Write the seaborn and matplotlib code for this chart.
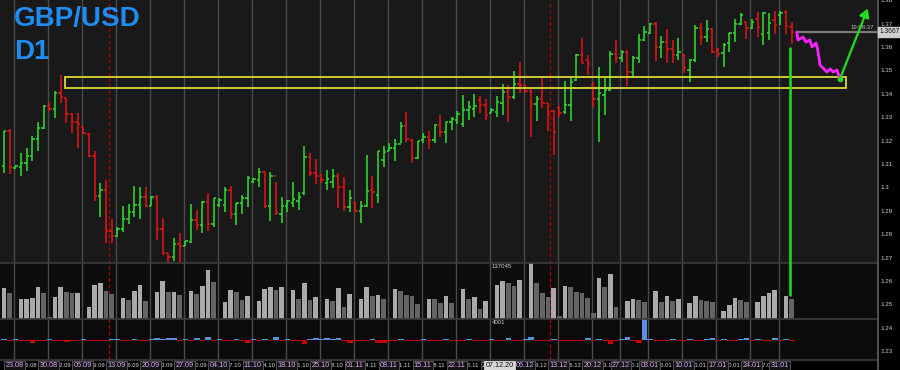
import numpy as np
import pandas as pd
import seaborn as sns
import matplotlib.pyplot as plt
from matplotlib.lines import Line2D
from matplotlib.patches import Rectangle, FancyArrowPatch
from matplotlib.transforms import blended_transform_factory

# --- daily GBP/USD bars ---
open_ = [1.3093, 1.3243, 1.3085, 1.3089, 1.3106, 1.3136, 1.3208, 1.3256, 1.3350, 1.3337,
         1.3405, 1.3384, 1.3315, 1.3281, 1.3260, 1.3230, 1.3136, 1.2965, 1.2991, 1.2815,
         1.2794, 1.2824, 1.2867, 1.2896, 1.2926, 1.2961, 1.2922, 1.2961, 1.2824, 1.2721,
         1.2704, 1.2760, 1.2751, 1.2768, 1.2862, 1.2841, 1.2939, 1.2845, 1.2926, 1.2926,
         1.2991, 1.2888, 1.2935, 1.2956, 1.3025, 1.3033, 1.3067, 1.2922, 1.3050, 1.2888,
         1.2922, 1.2935, 1.2943, 1.2978, 1.3132, 1.3063, 1.3050, 1.3020, 1.3025, 1.3050,
         1.3003, 1.2918, 1.2935, 1.2901, 1.2922, 1.2991, 1.2969, 1.3119, 1.3157, 1.3170,
         1.3187, 1.3264, 1.3204, 1.3127, 1.3204, 1.3217, 1.3204, 1.3268, 1.3238, 1.3281,
         1.3290, 1.3273, 1.3332, 1.3337, 1.3375, 1.3354, 1.3320, 1.3324, 1.3362, 1.3409,
         1.3388, 1.3444, 1.3439, 1.3414, 1.3358, 1.3379, 1.3362, 1.3328, 1.3341, 1.3324,
         1.3354, 1.3461, 1.3568, 1.3546, 1.3439, 1.3379, 1.3397, 1.3418, 1.3572, 1.3555,
         1.3580, 1.3495, 1.3555, 1.3632, 1.3662, 1.3700, 1.3602, 1.3623, 1.3593, 1.3568,
         1.3568, 1.3503, 1.3546, 1.3683, 1.3644, 1.3679, 1.3589, 1.3576, 1.3619, 1.3662,
         1.3700, 1.3709, 1.3683, 1.3721, 1.3657, 1.3662, 1.3717, 1.3738, 1.3751, 1.3687]
high = [1.3243, 1.3251, 1.3093, 1.3149, 1.3170, 1.3221, 1.3281, 1.3354, 1.3367, 1.3414,
        1.3482, 1.3384, 1.3320, 1.3320, 1.3260, 1.3234, 1.3157, 1.3020, 1.3033, 1.2867,
        1.2832, 1.2922, 1.2931, 1.3008, 1.3003, 1.3003, 1.2965, 1.2969, 1.2871, 1.2721,
        1.2785, 1.2807, 1.2773, 1.2931, 1.2905, 1.2943, 1.2978, 1.2956, 1.2956, 1.3003,
        1.3008, 1.2935, 1.2969, 1.3050, 1.3042, 1.3085, 1.3067, 1.3067, 1.3025, 1.2961,
        1.2948, 1.3025, 1.2982, 1.3179, 1.3149, 1.3123, 1.3059, 1.3076, 1.3080, 1.3063,
        1.3046, 1.2991, 1.2939, 1.2943, 1.3140, 1.3050, 1.3157, 1.3179, 1.3191, 1.3208,
        1.3281, 1.3324, 1.3208, 1.3200, 1.3234, 1.3243, 1.3273, 1.3311, 1.3281, 1.3302,
        1.3328, 1.3397, 1.3371, 1.3401, 1.3392, 1.3379, 1.3341, 1.3392, 1.3444, 1.3439,
        1.3499, 1.3538, 1.3439, 1.3422, 1.3392, 1.3473, 1.3362, 1.3332, 1.3350, 1.3456,
        1.3473, 1.3572, 1.3640, 1.3568, 1.3452, 1.3516, 1.3469, 1.3585, 1.3632, 1.3589,
        1.3589, 1.3563, 1.3657, 1.3691, 1.3704, 1.3709, 1.3649, 1.3679, 1.3632, 1.3640,
        1.3572, 1.3550, 1.3696, 1.3704, 1.3717, 1.3683, 1.3597, 1.3619, 1.3662, 1.3721,
        1.3747, 1.3709, 1.3721, 1.3751, 1.3751, 1.3747, 1.3756, 1.3756, 1.3760, 1.3709]
low = [1.3063, 1.3059, 1.3080, 1.3050, 1.3072, 1.3114, 1.3157, 1.3251, 1.3328, 1.3298,
       1.3362, 1.3277, 1.3234, 1.3170, 1.3230, 1.3132, 1.2943, 1.2875, 1.2764, 1.2764,
       1.2790, 1.2811, 1.2845, 1.2875, 1.2867, 1.2918, 1.2922, 1.2777, 1.2713, 1.2670,
       1.2687, 1.2683, 1.2751, 1.2764, 1.2820, 1.2807, 1.2815, 1.2832, 1.2918, 1.2896,
       1.2867, 1.2841, 1.2888, 1.2918, 1.3020, 1.3003, 1.2914, 1.2858, 1.2884, 1.2850,
       1.2896, 1.2918, 1.2905, 1.2969, 1.3050, 1.3016, 1.3020, 1.2991, 1.2999, 1.2914,
       1.2901, 1.2896, 1.2896, 1.2850, 1.2918, 1.2914, 1.2935, 1.3089, 1.3157, 1.3114,
       1.3191, 1.3196, 1.3106, 1.3123, 1.3191, 1.3166, 1.3191, 1.3217, 1.3191, 1.3247,
       1.3273, 1.3260, 1.3290, 1.3302, 1.3320, 1.3290, 1.3320, 1.3302, 1.3311, 1.3281,
       1.3379, 1.3405, 1.3405, 1.3217, 1.3285, 1.3341, 1.3243, 1.3140, 1.3302, 1.3315,
       1.3285, 1.3456, 1.3533, 1.3482, 1.3345, 1.3196, 1.3311, 1.3414, 1.3533, 1.3538,
       1.3435, 1.3473, 1.3533, 1.3627, 1.3657, 1.3542, 1.3555, 1.3533, 1.3533, 1.3546,
       1.3491, 1.3452, 1.3538, 1.3610, 1.3623, 1.3576, 1.3559, 1.3516, 1.3580, 1.3623,
       1.3696, 1.3636, 1.3679, 1.3644, 1.3610, 1.3632, 1.3657, 1.3696, 1.3657, 1.3615]
close = [1.3243, 1.3089, 1.3093, 1.3106, 1.3136, 1.3208, 1.3256, 1.3350, 1.3337, 1.3405,
         1.3388, 1.3315, 1.3281, 1.3273, 1.3234, 1.3136, 1.2965, 1.2991, 1.2815, 1.2794,
         1.2824, 1.2867, 1.2896, 1.2926, 1.2961, 1.2922, 1.2961, 1.2824, 1.2721, 1.2704,
         1.2760, 1.2751, 1.2773, 1.2862, 1.2841, 1.2939, 1.2845, 1.2956, 1.2948, 1.2991,
         1.2888, 1.2935, 1.2956, 1.3042, 1.3038, 1.3067, 1.2922, 1.3050, 1.2892, 1.2922,
         1.2943, 1.2950, 1.2961, 1.3132, 1.3063, 1.3050, 1.3033, 1.3038, 1.3050, 1.3003,
         1.2918, 1.2956, 1.2901, 1.2922, 1.2986, 1.2982, 1.3157, 1.3153, 1.3170, 1.3187,
         1.3264, 1.3208, 1.3127, 1.3200, 1.3217, 1.3204, 1.3268, 1.3238, 1.3281, 1.3294,
         1.3315, 1.3332, 1.3345, 1.3350, 1.3354, 1.3311, 1.3332, 1.3367, 1.3409, 1.3388,
         1.3444, 1.3439, 1.3414, 1.3358, 1.3379, 1.3362, 1.3315, 1.3238, 1.3320, 1.3354,
         1.3452, 1.3568, 1.3533, 1.3529, 1.3379, 1.3405, 1.3418, 1.3572, 1.3555, 1.3580,
         1.3495, 1.3555, 1.3632, 1.3666, 1.3700, 1.3602, 1.3623, 1.3593, 1.3568, 1.3580,
         1.3512, 1.3546, 1.3683, 1.3644, 1.3679, 1.3580, 1.3572, 1.3610, 1.3662, 1.3700,
         1.3738, 1.3683, 1.3709, 1.3687, 1.3747, 1.3704, 1.3696, 1.3747, 1.3691, 1.3666]

# volume in thousands (scale min 4001, max 137045)
volume_k = [76.9, 65.1, 4.5, 50.8, 52.2, 53.2, 80.7, 66.5, 8.0, 55.6,
            79.3, 67.4, 65.8, 66.5, 5.0, 31.8, 84.8, 89.5, 71.2, 63.4,
            5.0, 53.2, 49.1, 70.5, 84.8, 46.8, 5.0, 68.2, 94.3, 68.2,
            68.5, 61.0, 5.0, 70.5, 63.4, 81.7, 120.4, 91.2, 5.0, 43.7,
            72.9, 67.4, 49.1, 57.9, 5.0, 46.8, 75.3, 79.3, 72.9, 79.5,
            5.0, 72.2, 51.5, 88.8, 49.1, 55.5, 5.0, 50.7, 47.6, 76.9,
            31.7, 62.6, 5.0, 51.5, 79.2, 58.6, 61.0, 51.5, 5.0, 74.5,
            70.5, 61.0, 59.4, 39.6, 5.0, 51.5, 50.7, 42.8, 58.6, 41.2,
            5.0, 75.3, 51.5, 55.5, 27.0, 46.8, 5.0, 84.8, 94.3, 88.8,
            82.4, 96.7, 5.0, 137.0, 88.8, 65.0, 57.0, 76.9, 11.1, 83.2,
            79.2, 67.4, 65.0, 53.1, 17.5, 100.6, 79.2, 110.1, 31.7, 5.6,
            46.8, 50.7, 49.1, 43.6, 5.0, 70.5, 43.6, 59.4, 46.8, 51.5,
            5.0, 41.2, 58.6, 49.1, 46.8, 43.6, 5.0, 23.0, 37.3, 53.1,
            49.1, 43.6, 5.0, 43.6, 58.6, 65.0, 72.9, 5.0, 58.6, 50.7]

# lower oscillator (blue above / red below the zero line)
indicator = [0.04, -0.04, 0.04, -0.04, -0.04, -0.12, -0.04, -0.04, 0.04, -0.04,
             -0.04, -0.08, -0.04, -0.04, 0.04, -0.04, -0.04, -0.04, -0.04, 0.04,
             0.04, -0.04, -0.04, 0.04, -0.04, -0.04, 0.04, 0.10, 0.04, 0.08,
             0.08, -0.04, 0.04, -0.04, 0.10, -0.04, 0.15, -0.04, 0.04, -0.04,
             -0.04, 0.04, -0.04, -0.12, 0.04, -0.04, 0.04, -0.04, 0.12, -0.04,
             0.04, -0.04, -0.04, -0.20, 0.04, 0.10, 0.04, 0.10, 0.04, 0.10,
             -0.04, -0.12, -0.04, -0.04, -0.04, 0.04, -0.12, -0.12, -0.04, -0.04,
             0.04, -0.04, -0.04, -0.04, 0.04, -0.04, -0.04, -0.04, 0.04, -0.04,
             -0.04, -0.04, 0.04, -0.04, -0.04, -0.04, 0.04, -0.04, -0.04, 0.10,
             -0.04, -0.04, 0.04, 0.12, -0.04, -0.04, -0.04, 0.04, -0.04, -0.04,
             -0.04, -0.04, -0.04, 0.10, -0.04, 0.04, -0.04, -0.20, -0.04, 0.04,
             0.12, -0.04, -0.12, 1.00, 0.04, -0.04, -0.04, -0.04, 0.04, -0.04,
             -0.04, 0.04, -0.04, -0.04, 0.04, 0.10, -0.04, 0.04, -0.04, -0.04,
             0.04, 0.10, -0.04, 0.04, -0.04, -0.04, 0.10, -0.04, 0.04, -0.04]

# week starts (bar index of the Sunday bar) and their labels
week_idx = [2, 8, 14, 20, 26, 32, 38, 44, 50, 56, 62, 68, 74, 80, 86, 92,
            98, 104, 109, 114, 120, 126, 132, 137]
week_labels = ["23.08", "30.08", "06.09", "13.09", "20.09", "27.09", "04.10", "11.10",
               "18.10", "25.10", "01.11", "08.11", "15.11", "22.11", "29.11", "06.12",
               "13.12", "20.12", "27.12", "03.01", "10.01", "17.01", "24.01", "31.01"]
mid_labels = ["26.08", "02.09", "09.09", "16.09", "23.09", "30.09", "07.10", "14.10",
              "21.10", "28.10", "04.11", "11.11", "18.11", "25.11", "02.12", "09.12",
              "16.12", "23.12", "30.12", "06.01", "13.01", "20.01", "27.01"]

# drawn objects
zone_lo, zone_hi, zone_from, zone_to = 1.3426, 1.3473, 10.8, 148.5
event_lines = [18.5, 96.3]
forecast_x = [139.9, 140.1, 141.0, 141.5, 142.2, 142.6, 143.3, 143.6, 144.0, 144.5,
              145.2, 145.8, 146.3, 147.0, 147.5]
forecast_y = [1.3666, 1.3632, 1.3644, 1.3623, 1.3632, 1.3602, 1.3619, 1.3589, 1.3525, 1.3512,
              1.3495, 1.3508, 1.3495, 1.3503, 1.3465]
arrow_end = (152.6, 1.3777)
last_price = 1.3667

sns.set_theme(style="dark")
plt.rcParams['font.family'] = ['Liberation Sans', 'DejaVu Sans']

n = len(close)
idx = np.arange(n)
df = pd.DataFrame({"i": idx, "o": open_, "h": high, "l": low, "c": close,
                   "vol": volume_k, "ind": indicator})
df["up"] = df["c"] >= df["o"]
df["vup"] = df["vol"].diff().fillna(1) > 0
df["ipos"] = df["ind"] > 0

W, H = 900, 370
def box(x0, y0, x1, y1):
    return [x0 / W, 1 - y1 / H, (x1 - x0) / W, (y1 - y0) / H]

fig = plt.figure(figsize=(9, 3.7), dpi=100, facecolor="black")
axp = fig.add_axes(box(0, 0, 878, 263))
axv = fig.add_axes(box(0, 263, 878, 319))
axi = fig.add_axes(box(0, 319, 878, 360))
axs = fig.add_axes(box(878, 0, 900, 370))

xlim = (-0.706, 154.23)
for ax, bg in [(axp, "#191919"), (axv, "#0d0d0d"), (axi, "#0b0b0b")]:
    ax.set_facecolor(bg)
    ax.set_xlim(*xlim)
    ax.set_xticks([])
    ax.set_yticks([])
    ax.set_xlabel("")
    ax.set_ylabel("")
    for s in ax.spines.values():
        s.set_visible(False)
    for w in week_idx:
        ax.axvline(w - 0.27, color="#4a4a4a", lw=1.0, zorder=0.5)
    for e in event_lines:
        ax.axvline(e, color="#b00000", lw=0.9, ls=(0, (3, 2)), zorder=1)
for ax in (axv, axi):
    ax.spines["top"].set_visible(True)
    ax.spines["top"].set_color("#3a3a3a")
axi.spines["bottom"].set_visible(True)
axi.spines["bottom"].set_color("#3a3a3a")

# price bars (OHLC)
axp.set_ylim(1.26786, 1.38026)
col = np.where(df["up"], "#2ee02e", "#e81414")
axp.vlines(df["i"], df["l"], df["h"], colors=col, lw=1.1, zorder=3)
axp.hlines(df["o"], df["i"] - 0.4, df["i"], colors=col, lw=1.1, zorder=3)
axp.hlines(df["c"], df["i"], df["i"] + 0.4, colors=col, lw=1.1, zorder=3)

# support zone
axp.add_patch(Rectangle((zone_from, zone_lo), zone_to - zone_from, zone_hi - zone_lo,
                        fill=False, ec="#d8d83a", lw=1.3, zorder=4))

# current price line
axp.hlines(last_price, forecast_x[0], xlim[1], colors="#7a7a7a", lw=1.6, zorder=2)
axp.text(153.6, last_price + 0.0008, "19:08:37", color="#b8b8b8", fontsize=4.3,
         ha="right", va="bottom", zorder=5)

# forecast path and arrow
fc = pd.DataFrame({"x": forecast_x, "y": forecast_y})
sns.lineplot(data=fc, x="x", y="y", ax=axp, color="#ff22ff", lw=2.0, sort=False, zorder=6)
axp.add_patch(FancyArrowPatch((forecast_x[-1], forecast_y[-1]), arrow_end,
                              arrowstyle="-|>,head_length=5,head_width=3",
                              color="#22dd22", lw=1.6, zorder=6, mutation_scale=1))
axp.plot([forecast_x[-1]], [forecast_y[-1]], "o", color="#22dd22", ms=3, zorder=7)
axp.set_xlabel("")
axp.set_ylabel("")

# title
axp.text(14 / 878, 1 - 6 / 263, "GBP/USD", transform=axp.transAxes, color="#1f8cf2",
         fontsize=20, fontweight="bold", va="top", ha="left", zorder=8)
axp.text(14 / 878, 1 - 39 / 263, "D1", transform=axp.transAxes, color="#1f8cf2",
         fontsize=20, fontweight="bold", va="top", ha="left", zorder=8)

# volume
sns.barplot(data=df, x="i", y="vol", hue="vup", palette={True: "#aaaaaa", False: "#646464"},
            native_scale=True, dodge=False, width=0.86, saturation=1, linewidth=0,
            errorbar=None, legend=False, ax=axv, zorder=2)
axv.set_ylim(4.001, 137.045)
axv.set_xlim(*xlim)
axv.set_xlabel("")
axv.set_ylabel("")
axv.set_yticks([])
axv.text(86.0, 133.5, "137045", color="#cfcfcf", fontsize=4.3, ha="left", va="top", zorder=5)

# oscillator
sns.barplot(data=df, x="i", y="ind", hue="ipos", palette={True: "#5b8fe0", False: "#c40000"},
            native_scale=True, dodge=False, width=1.0, saturation=1, linewidth=0,
            errorbar=None, legend=False, ax=axi, zorder=2)
axi.set_ylim(-0.952, 1.0)
axi.set_xlim(*xlim)
axi.set_xlabel("")
axi.set_ylabel("")
axi.set_yticks([])
axi.text(86.0, 0.97, "4001", color="#cfcfcf", fontsize=4.3, ha="left", va="top", zorder=5)

# date labels row
tr = blended_transform_factory(axi.transData, axi.transAxes)
for w, lab in zip([w + 3 for w in week_idx], mid_labels):
    axi.text(w - 0.4, -0.13, lab, transform=tr, color="#d8d8d8", fontsize=4.2,
             ha="center", va="center", clip_on=False, zorder=5)
for w, lab in zip(week_idx, week_labels):
    axi.text(w - 0.1, -0.13, lab, transform=tr, color="#e2a6ff", fontsize=5.2,
             ha="center", va="center", clip_on=False, zorder=6,
             bbox=dict(boxstyle="square,pad=0.18", fc="#141414", ec="#5c5c5c", lw=0.6))
axi.text(87.5, -0.13, "07.12.20", transform=tr, color="#111111", fontsize=5.2,
         ha="center", va="center", clip_on=False, zorder=7,
         bbox=dict(boxstyle="square,pad=0.18", fc="#d8d8d8", ec="#d8d8d8", lw=0.6))

# price scale on the right
axs.set_facecolor("black")
axs.set_ylim(1.22214, 1.38026)
axs.set_xlim(0, 1)
axs.set_xticks([])
ticks = np.round(np.arange(1.23, 1.3801, 0.01), 2)
axs.set_yticks(ticks)
axs.tick_params(axis="y", direction="in", length=2, color="#8a8a8a", labelleft=False)
for s in axs.spines.values():
    s.set_visible(False)
axs.spines["left"].set_visible(True)
axs.spines["left"].set_color("#5a5a5a")
for t in ticks:
    axs.text(0.12, t, f"{t:g}", color="#d0d0d0", fontsize=4.5, ha="left", va="center",
             clip_on=True)
axs.text(0.05, last_price, "1.3667", color="#111111", fontsize=4.8, ha="left", va="center",
         bbox=dict(boxstyle="square,pad=0.2", fc="#cfcfcf", ec="#cfcfcf"), zorder=5)

# green marker line crossing into the volume panel
fig.add_artist(Line2D([138.7, 138.7], [1.3597, 1.2542], transform=axp.transData,
                      color="#1fe01f", lw=1.8, zorder=10))

fig.savefig("out.png", dpi=100, facecolor="black")
